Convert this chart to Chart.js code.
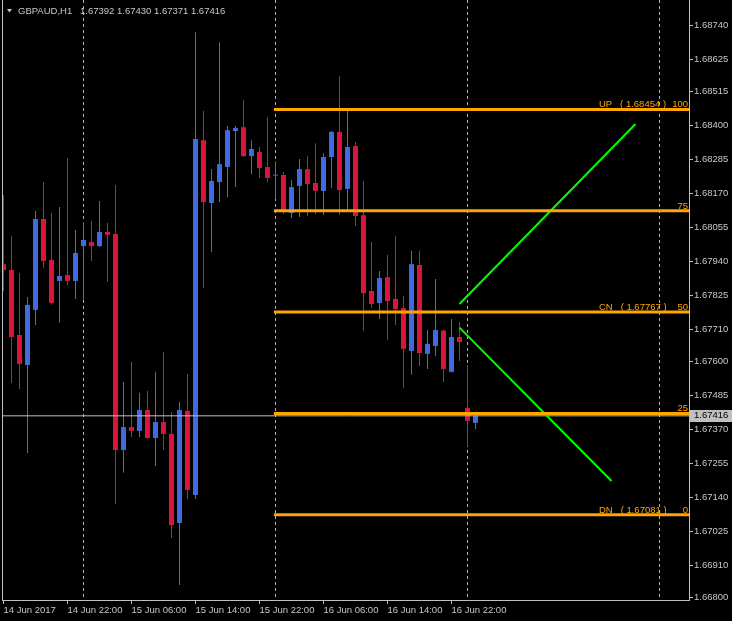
<!DOCTYPE html>
<html><head><meta charset="utf-8">
<script src="https://cdn.jsdelivr.net/npm/chart.js@4"></script>
<style>html,body{margin:0;padding:0;background:#000;overflow:hidden}#c{display:block}</style>
</head><body>
<canvas id="c" width="732" height="621"></canvas>
<script>
const symbol = 'GBPAUD,H1';
const timeLabels = ['14 Jun 2017','14 Jun 22:00','15 Jun 06:00','15 Jun 14:00','15 Jun 22:00','16 Jun 06:00','16 Jun 14:00','16 Jun 22:00'];
const opens  = [1.67930,1.67910,1.67690,1.67588,1.67775,1.68083,1.67944,1.67873,1.67893,1.67873,1.67991,1.68005,1.67991,1.68039,1.68032,1.67300,1.67378,1.67365,1.67436,1.67341,1.67395,1.67355,1.67053,1.67433,1.67148,1.68350,1.68137,1.68208,1.68259,1.68381,1.68394,1.68296,1.68310,1.68259,1.68230,1.68232,1.68103,1.68195,1.68252,1.68205,1.68178,1.68293,1.68378,1.68185,1.68330,1.68096,1.67839,1.67798,1.67886,1.67812,1.67781,1.67636,1.67927,1.67626,1.67653,1.67705,1.67565,1.67683,1.67443,1.67392];
const highs  = [1.68164,1.68025,1.67900,1.67819,1.68110,1.68208,1.68103,1.68124,1.68290,1.68046,1.68073,1.68076,1.68144,1.68069,1.68198,1.67531,1.67599,1.67494,1.67500,1.67565,1.67632,1.67429,1.67463,1.67558,1.68716,1.68449,1.68252,1.68682,1.68398,1.68398,1.68486,1.68350,1.68327,1.68428,1.68279,1.68242,1.68215,1.68286,1.68296,1.68340,1.68306,1.68381,1.68567,1.68449,1.68344,1.68212,1.68005,1.67907,1.67961,1.68025,1.67822,1.67975,1.67975,1.67707,1.67880,1.67707,1.67744,1.67734,1.67588,1.67430];
const lows   = [1.67839,1.67527,1.67507,1.67290,1.67724,1.67917,1.67792,1.67731,1.67859,1.67812,1.67809,1.67941,1.67988,1.67870,1.67118,1.67223,1.67344,1.67344,1.67339,1.67246,1.67300,1.67002,1.66843,1.67134,1.67134,1.67849,1.67971,1.68140,1.68157,1.68191,1.68293,1.68235,1.68222,1.68208,1.68151,1.68100,1.68086,1.68090,1.68093,1.68100,1.68096,1.68188,1.68096,1.68113,1.68059,1.67704,1.67781,1.67744,1.67673,1.67724,1.67510,1.67555,1.67585,1.67575,1.67619,1.67531,1.67563,1.67602,1.67311,1.67371];
const closes = [1.67910,1.67683,1.67592,1.67792,1.68083,1.67941,1.67798,1.67890,1.67873,1.67968,1.68012,1.67991,1.68039,1.68029,1.67300,1.67378,1.67365,1.67436,1.67341,1.67395,1.67355,1.67046,1.67436,1.67165,1.68354,1.68140,1.68212,1.68269,1.68384,1.68391,1.68296,1.68320,1.68256,1.68222,1.68232,1.68113,1.68191,1.68252,1.68201,1.68178,1.68293,1.68378,1.68181,1.68327,1.68093,1.67832,1.67795,1.67883,1.67805,1.67778,1.67643,1.67930,1.67629,1.67660,1.67707,1.67575,1.67683,1.67666,1.67399,1.67416];
const priceTicks = [1.66800,1.66910,1.67025,1.67140,1.67255,1.67370,1.67485,1.67600,1.67710,1.67825,1.67940,1.68055,1.68170,1.68285,1.68400,1.68515,1.68625,1.68740];
const gridBars = [10,34,58,82];
const fiboUp = 1.68454, fiboDn = 1.67081;
const fiboLevels = [100,75,50,25,0];
const fiboNames = ['UP','','CN','','DN'];
const fiboStartBar = 33.8;
const channelUpper = [{x:57,y:1.67795},{x:79,y:1.68405}];
const channelLower = [{x:57,y:1.67715},{x:76,y:1.67195}];

const xMin = -0.1875, xMax = 85.6875, yMin = 1.66792, yMax = 1.68825;
const N = opens.length;
const bull = '#4169E1', bear = '#DC143C';
const axisColor = '#c0c0c0', textColor = '#c8c8c8';
const fontFamily = 'Liberation Sans', fontSize = 9.5;
Chart.defaults.font.family = fontFamily;
Chart.defaults.font.size = fontSize;

const fiboPrice = l => fiboDn + (fiboUp - fiboDn) * l / 100;
const colors = opens.map((o,i) => closes[i] >= o ? bull : bear);
const wickData = highs.map((h,i) => ({x:i, y:[lows[i], h]}));
const bodyData = opens.map((o,i) => ({x:i, y:[Math.min(o,closes[i]), Math.max(o,closes[i])]}));

const lineDs = (data, color, width) => ({type:'line', data, borderColor:color, borderWidth:width, pointRadius:0, xAxisID:'x', yAxisID:'y', order:0, tension:0});
const datasets = [];
fiboLevels.forEach(l => datasets.push(lineDs([{x:fiboStartBar,y:fiboPrice(l)},{x:xMax,y:fiboPrice(l)}], '#FFA500', 3)));
datasets.push(lineDs(channelUpper, '#00FF00', 2));
datasets.push(lineDs(channelLower, '#00FF00', 2));
datasets.push(Object.assign(lineDs([{x:xMin,y:closes[N-1]},{x:xMax,y:closes[N-1]}], '#c0c0c0', 1), {order:0.5}));
datasets.push({type:'bar', data:bodyData, backgroundColor:colors, grouped:false, barThickness:5, maxBarThickness:5, barPercentage:1, categoryPercentage:1, minBarLength:1, inflateAmount:0, borderWidth:0, xAxisID:'x', yAxisID:'y', order:1});
datasets.push({type:'bar', data:wickData, backgroundColor:colors, grouped:false, barThickness:1, maxBarThickness:1, barPercentage:1, categoryPercentage:1, inflateAmount:0, borderWidth:0, xAxisID:'x', yAxisID:'y', order:2});

const extras = {
  id:'extras',
  afterDraw(chart){
    const {ctx, chartArea:a, scales:{y}} = chart;
    ctx.save();
    ctx.strokeStyle = axisColor; ctx.lineWidth = 1;
    ctx.beginPath(); ctx.moveTo(a.left+0.5, a.top); ctx.lineTo(a.left+0.5, a.bottom); ctx.stroke();
    ctx.font = fontSize + 'px "' + fontFamily + '"';
    ctx.fillStyle = '#FFA500'; ctx.textBaseline = 'alphabetic';
    fiboLevels.forEach((l,i) => {
      const p = fiboPrice(l), py = y.getPixelForValue(p);
      ctx.textAlign = 'right'; ctx.fillText(String(l), a.right-1, py-2);
      if (fiboNames[i]) { ctx.textAlign = 'left'; ctx.fillText(fiboNames[i] + '   ( ' + p.toFixed(5) + ' )', a.right-90, py-2); }
    });
    const last = closes[N-1], by = y.getPixelForValue(last);
    ctx.fillStyle = '#c0c0c0'; ctx.fillRect(a.right+1, Math.round(by)-6, 43, 12);
    ctx.fillStyle = '#000'; ctx.textAlign = 'left'; ctx.textBaseline = 'middle';
    ctx.fillText(last.toFixed(5), a.right+5, by);
    ctx.fillStyle = textColor; ctx.textBaseline = 'alphabetic';
    ctx.beginPath(); ctx.moveTo(7,9); ctx.lineTo(12,9); ctx.lineTo(9.5,12.5); ctx.closePath(); ctx.fill();
    ctx.fillText(symbol, 18, 14);
    ctx.fillText([opens,highs,lows,closes].map(s => s[N-1].toFixed(5)).join(' '), 80, 14);
    ctx.restore();
  }
};

new Chart(document.getElementById('c'), {
  type:'bar',
  data:{datasets},
  options:{
    responsive:false, animation:false, devicePixelRatio:1,
    layout:{padding:{left:2,top:0,right:0,bottom:0}, autoPadding:false},
    plugins:{legend:{display:false}, tooltip:{enabled:false}, title:{display:false}},
    scales:{
      x:{type:'linear', position:'bottom', min:xMin, max:xMax, offset:false,
        afterBuildTicks:s => { s.ticks = timeLabels.map((_,i) => ({value:i*8})); },
        ticks:{callback:v => timeLabels[Math.round(v/8)], align:'start', maxRotation:0, minRotation:0, autoSkip:false, color:textColor, padding:1},
        grid:{drawOnChartArea:false, drawTicks:true, tickLength:4, color:axisColor, offset:false},
        border:{color:axisColor},
        afterFit:s => { s.height = 21; s.paddingLeft = 0; s.paddingRight = 0; }
      },
      x2:{type:'linear', position:'top', min:xMin, max:xMax, offset:false,
        afterBuildTicks:s => { s.ticks = gridBars.map(v => ({value:v})); },
        ticks:{display:false},
        grid:{drawTicks:false, color:'#b4b4b4', lineWidth:1, offset:false},
        border:{display:false, dash:[3,3]},
        afterFit:s => { s.height = 0; s.paddingLeft = 0; s.paddingRight = 0; }
      },
      y:{type:'linear', position:'right', min:yMin, max:yMax, beginAtZero:false,
        afterBuildTicks:s => { s.ticks = priceTicks.map(v => ({value:v})); },
        ticks:{callback:v => Number(v).toFixed(5), color:textColor, padding:1, autoSkip:false},
        grid:{drawOnChartArea:false, tickLength:4, color:axisColor},
        border:{color:axisColor},
        afterFit:s => { s.width = 43; s.paddingTop = 0; s.paddingBottom = 0; }
      }
    }
  },
  plugins:[extras]
});
</script>
</body></html>
